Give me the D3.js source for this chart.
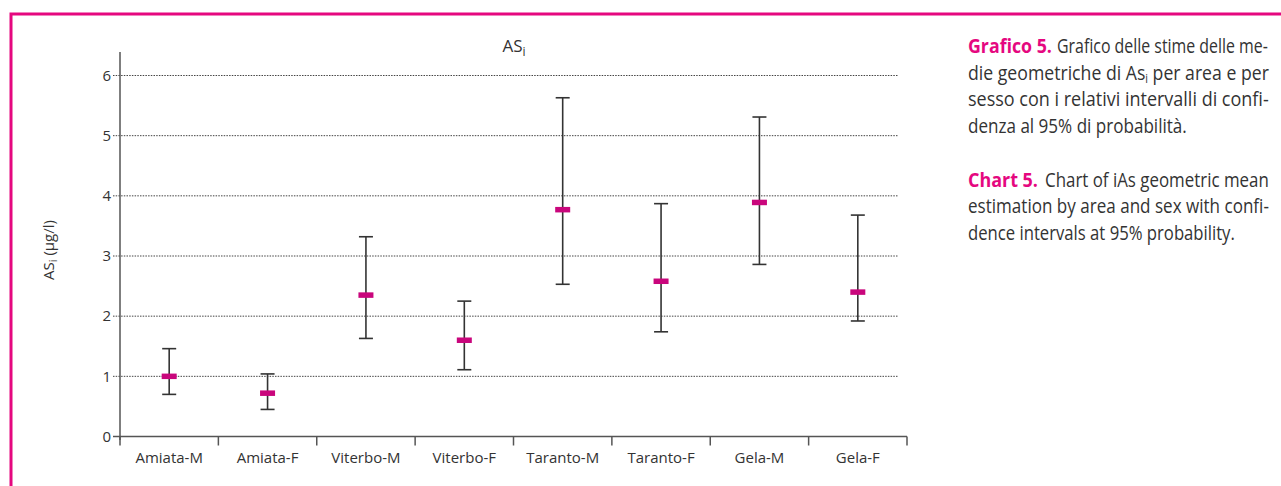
<!DOCTYPE html>
<html>
<head>
<meta charset="utf-8">
<script src="https://cdn.jsdelivr.net/npm/d3@7"></script>
<style>
  html, body { margin: 0; padding: 0; background: #fff; }
  svg { display: block; }
  text { font-family: "Open Sans", "Noto Sans", sans-serif; fill: #333; }
</style>
</head>
<body>
<div id="chart"></div>
<script>
// categories and series
const categories = ["Amiata-M", "Amiata-F", "Viterbo-M", "Viterbo-F", "Taranto-M", "Taranto-F", "Gela-M", "Gela-F"];
const means = [1.00, 0.72, 2.35, 1.60, 3.77, 2.58, 3.89, 2.40];
const lower = [0.70, 0.45, 1.63, 1.11, 2.53, 1.74, 2.86, 1.92];
const upper = [1.46, 1.04, 3.32, 2.25, 5.63, 3.87, 5.31, 3.68];
const yTicks = [0, 1, 2, 3, 4, 5, 6];

const W = 1281, H = 486;
const magenta = "#e5077f";
const markColor = "#c9067c";
const axisColor = "#555";

const svg = d3.select("#chart")
  .append("svg")
  .attr("width", W)
  .attr("height", H)
  .attr("viewBox", `0 0 ${W} ${H}`);

// pink frame (top + left)
svg.append("path")
  .attr("d", `M11,${H} L11,14 L${W},14`)
  .attr("fill", "none")
  .attr("stroke", magenta)
  .attr("stroke-width", 3);

const x = d3.scaleBand().domain(categories).range([120, 907]);
const y = d3.scaleLinear().domain([0, 6]).range([436.5, 75.5]);

// gridlines (dotted)
svg.append("g")
  .selectAll("line")
  .data(yTicks.filter(d => d > 0))
  .join("line")
  .attr("x1", 113)
  .attr("x2", 898)
  .attr("y1", d => y(d))
  .attr("y2", d => y(d))
  .attr("stroke", "#444")
  .attr("stroke-width", 1)
  .attr("stroke-dasharray", "1.5,1.2");

// y axis
const yAxis = svg.append("g")
  .attr("transform", "translate(120,0)")
  .call(d3.axisLeft(y).tickValues(yTicks).tickSize(0).tickPadding(9).tickFormat(d3.format("d")));
yAxis.select(".domain").remove();
yAxis.selectAll("text")
  .attr("font-size", 15)
  .attr("fill", "#333")
  .style("font-family", "'Open Sans', sans-serif");

svg.append("line")
  .attr("x1", 120).attr("x2", 120)
  .attr("y1", 52).attr("y2", 440)
  .attr("stroke", axisColor)
  .attr("stroke-width", 1.5);
svg.append("line")
  .attr("x1", 113).attr("x2", 120)
  .attr("y1", y(0)).attr("y2", y(0))
  .attr("stroke", axisColor)
  .attr("stroke-width", 1.5);

// x axis
const xAxis = svg.append("g")
  .attr("transform", `translate(0,${y(0)})`);
xAxis.append("line")
  .attr("x1", 120).attr("x2", 907)
  .attr("stroke", axisColor)
  .attr("stroke-width", 1.5);
xAxis.selectAll("line.tick")
  .data(categories.concat(["end"]))
  .join("line")
  .attr("class", "tick")
  .attr("x1", (d, i) => 120 + i * x.bandwidth())
  .attr("x2", (d, i) => 120 + i * x.bandwidth())
  .attr("y1", 0)
  .attr("y2", 9)
  .attr("stroke", axisColor)
  .attr("stroke-width", 1.5);
xAxis.selectAll("text")
  .data(categories)
  .join("text")
  .attr("x", d => x(d) + x.bandwidth() / 2)
  .attr("y", 26)
  .attr("text-anchor", "middle")
  .attr("font-size", 15)
  .text(d => d);

// title
const title = svg.append("text")
  .attr("x", 514)
  .attr("y", 52)
  .attr("text-anchor", "middle")
  .attr("font-size", 17);
title.append("tspan").text("AS");
title.append("tspan").attr("font-size", 12).attr("dy", 4).text("i");

// y axis label
const yLab = svg.append("text")
  .attr("transform", "translate(54,250) rotate(-90)")
  .attr("text-anchor", "middle")
  .attr("font-size", 15);
yLab.append("tspan").text("AS");
yLab.append("tspan").attr("font-size", 11).attr("dy", 3).text("i");
yLab.append("tspan").attr("dy", -3).text(" (µg/l)");

// error bars
const rows = categories.map((c, i) => ({ c, m: means[i], lo: lower[i], hi: upper[i] }));
const cx = d => x(d.c) + x.bandwidth() / 2;
const bars = svg.append("g").selectAll("g").data(rows).join("g");

bars.append("line")
  .attr("x1", cx).attr("x2", cx)
  .attr("y1", d => y(d.lo)).attr("y2", d => y(d.hi))
  .attr("stroke", "#333").attr("stroke-width", 1.6);
bars.append("line")
  .attr("x1", d => cx(d) - 7).attr("x2", d => cx(d) + 7)
  .attr("y1", d => y(d.hi)).attr("y2", d => y(d.hi))
  .attr("stroke", "#333").attr("stroke-width", 1.6);
bars.append("line")
  .attr("x1", d => cx(d) - 7).attr("x2", d => cx(d) + 7)
  .attr("y1", d => y(d.lo)).attr("y2", d => y(d.lo))
  .attr("stroke", "#333").attr("stroke-width", 1.6);
bars.append("rect")
  .attr("x", d => cx(d) - 7.5)
  .attr("y", d => y(d.m) - 2.75)
  .attr("width", 15)
  .attr("height", 5.5)
  .attr("fill", markColor);

// caption on the right, squeezed horizontally to the measured line widths
const cap = svg.append("g").attr("font-size", 20);
function capLine(yy, parts) {
  parts.forEach(p => {
    const t = cap.append("text").attr("x", 0).attr("y", 0);
    if (p.bold) t.attr("font-weight", 700).style("fill", magenta);
    p.segs.forEach(s => {
      const ts = t.append("tspan").text(s.t);
      if (s.sub) ts.attr("font-size", 12).attr("dy", 3);
      if (s.up) ts.attr("dy", -3);
    });
    const len = t.node().getComputedTextLength();
    t.attr("transform", `translate(${p.x},${yy}) scale(${p.w / len},1)`);
  });
}
capLine(53, [
  { x: 968, w: 84, bold: true, segs: [{ t: "Grafico 5." }] },
  { x: 1057, w: 211, segs: [{ t: "Grafico delle stime delle me-" }] }
]);
capLine(79.5, [
  { x: 968, w: 301, segs: [{ t: "die geometriche di As" }, { t: "i", sub: true }, { t: " per area e per", up: true }] }
]);
capLine(106, [{ x: 968, w: 301, segs: [{ t: "sesso con i relativi intervalli di confi-" }] }]);
capLine(132.5, [{ x: 968, w: 219, segs: [{ t: "denza al 95% di probabilità." }] }]);

capLine(186.5, [
  { x: 968, w: 70, bold: true, segs: [{ t: "Chart 5." }] },
  { x: 1045, w: 224, segs: [{ t: "Chart of iAs geometric mean" }] }
]);
capLine(213, [{ x: 968, w: 301, segs: [{ t: "estimation by area and sex with confi-" }] }]);
capLine(239.5, [{ x: 968, w: 267, segs: [{ t: "dence intervals at 95% probability." }] }]);
</script>
</body>
</html>
